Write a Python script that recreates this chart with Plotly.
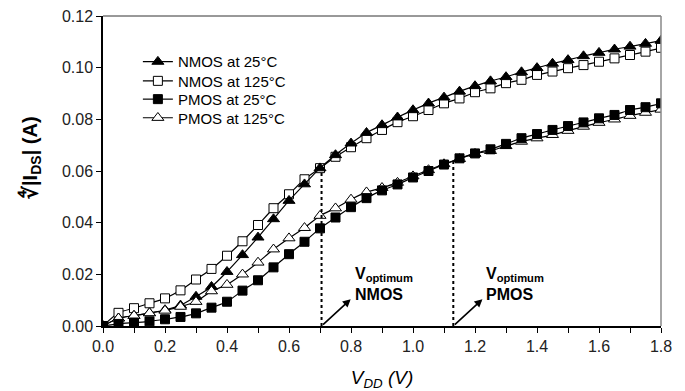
import numpy as np
import plotly.graph_objects as go

vdd = [round(0.05 * i, 2) for i in range(37)]

nmos_25 = [0, 0.0030, 0.0040, 0.0050, 0.0062, 0.0080, 0.0114, 0.0152, 0.0210, 0.0275,
           0.0343, 0.0414, 0.0485, 0.0549, 0.0611, 0.0662, 0.0707, 0.0748, 0.0778, 0.0808,
           0.0836, 0.0862, 0.0885, 0.0908, 0.0929, 0.0948, 0.0964, 0.0983, 0.0999, 0.1016,
           0.1030, 0.1045, 0.1058, 0.1071, 0.1082, 0.1093, 0.1105]
nmos_125 = [0, 0.0051, 0.0069, 0.0088, 0.0107, 0.0138, 0.0180, 0.0221, 0.0272, 0.0328,
            0.0391, 0.0456, 0.0510, 0.0568, 0.0611, 0.0655, 0.0692, 0.0727, 0.0759, 0.0789,
            0.0812, 0.0836, 0.0862, 0.0881, 0.0905, 0.0920, 0.0940, 0.0953, 0.0972, 0.0985,
            0.0998, 0.1010, 0.1023, 0.1036, 0.1049, 0.1062, 0.1077]
pmos_25 = [0, 0.0008, 0.0013, 0.0018, 0.0026, 0.0035, 0.0049, 0.0071, 0.0094, 0.0137,
           0.0177, 0.0227, 0.0278, 0.0326, 0.0378, 0.0420, 0.0460, 0.0495, 0.0525, 0.0548,
           0.0575, 0.0600, 0.0625, 0.0649, 0.0668, 0.0684, 0.0705, 0.0727, 0.0743, 0.0759,
           0.0774, 0.0788, 0.0804, 0.0817, 0.0836, 0.0847, 0.0862]
pmos_125 = [0, 0.0030, 0.0040, 0.0050, 0.0060, 0.0075, 0.0094, 0.0135, 0.0160, 0.0200,
            0.0246, 0.0297, 0.0340, 0.0380, 0.0427, 0.0456, 0.0490, 0.0518, 0.0535, 0.0555,
            0.0580, 0.0604, 0.0627, 0.0647, 0.0667, 0.0678, 0.0697, 0.0714, 0.0727, 0.0740,
            0.0756, 0.0772, 0.0787, 0.0800, 0.0814, 0.0826, 0.0838]

series_names = ["NMOS at 25°C", "NMOS at 125°C", "PMOS at 25°C", "PMOS at 125°C"]

v_opt_nmos = 0.705
v_opt_pmos = 1.13

x_ticks = [0.0, 0.2, 0.4, 0.6, 0.8, 1.0, 1.2, 1.4, 1.6, 1.8]
y_ticks = [0.00, 0.02, 0.04, 0.06, 0.08, 0.10, 0.12]

FONT = "Liberation Sans, Arial, sans-serif"

fig = go.Figure()

def add(name, y, symbol, fill, legend):
    fig.add_trace(go.Scatter(
        x=vdd, y=y, name=name, mode="lines+markers",
        line=dict(color="black", width=1.2, shape="spline", smoothing=0.6),
        marker=dict(symbol=symbol, size=9 if "square" in symbol else 10.5,
                    color=fill, line=dict(color="black", width=1)),
        legend=legend,
    ))

add(series_names[1], nmos_125, "square", "white", "legend2")
add(series_names[0], nmos_25, "triangle-up", "black", "legend")
add(series_names[3], pmos_125, "triangle-up", "white", "legend4")
add(series_names[2], pmos_25, "square", "black", "legend3")

# dotted V_optimum lines
top_n = float(np.interp(v_opt_nmos, vdd, nmos_25))
top_p = float(np.interp(v_opt_pmos, vdd, pmos_25))
for xv, top in [(v_opt_nmos, top_n), (v_opt_pmos, top_p)]:
    fig.add_shape(type="line", x0=xv, x1=xv, y0=0, y1=top, xref="x", yref="y",
                  line=dict(color="black", width=2, dash="dot"))

# arrows and labels
for xv, lab in [(v_opt_nmos, "NMOS"), (v_opt_pmos, "PMOS")]:
    fig.add_annotation(x=xv + 0.094, y=0.0104, ax=xv, ay=0.0, xref="x", yref="y",
                       axref="x", ayref="y", text="", showarrow=True,
                       arrowhead=2, arrowsize=1, arrowwidth=1.6, arrowcolor="black")
    fig.add_annotation(x=xv + 0.1, y=0.0080, xref="x", yref="y", xanchor="left",
                       yanchor="bottom", align="left", showarrow=False,
                       text="<b>V<sub>optimum</sub><br>%s</b>" % lab,
                       font=dict(family=FONT, size=16, color="black"))

# y-axis title as rotated annotation
fig.add_annotation(x=-72 / 558, y=0.542, xref="paper", yref="paper", textangle=-90,
                   showarrow=False, xanchor="center", yanchor="middle",
                   text="<b>∜|I<sub>DS</sub>| (A)</b>",
                   font=dict(family=FONT, size=20, color="black"))

# top and right frame
fig.add_shape(type="line", xref="paper", yref="paper", x0=0, x1=1, y0=1, y1=1,
              line=dict(color="#333333", width=1))
fig.add_shape(type="line", xref="paper", yref="paper", x0=1, x1=1, y0=0, y1=1,
              line=dict(color="#888888", width=1.5))

leg_common = dict(x=0.0625, xanchor="left", yanchor="middle", bgcolor="rgba(0,0,0,0)",
                  font=dict(size=15, family=FONT, color="black"), itemwidth=30,
                  borderwidth=0)
row_y = [0.852, 0.790, 0.731, 0.671]

fig.update_layout(
    width=685, height=391,
    margin=dict(l=103, r=24, t=16, b=65, autoexpand=False),
    paper_bgcolor="white", plot_bgcolor="white",
    font=dict(family=FONT, color="black"),
    showlegend=True,
    legend=dict(y=row_y[0], **leg_common),
    legend2=dict(y=row_y[1], **leg_common),
    legend3=dict(y=row_y[2], **leg_common),
    legend4=dict(y=row_y[3], **leg_common),
    xaxis=dict(range=[0, 1.8], tickvals=x_ticks, ticktext=["%.1f" % v for v in x_ticks],
               ticks="outside", ticklen=5, tickcolor="black", showgrid=False,
               zeroline=False, showline=True, linecolor="black", linewidth=1.5,
               tickfont=dict(size=16, color="#222222"), automargin=False,
               minor=dict(dtick=0.1, tick0=0, ticks="outside", ticklen=5, tickcolor="black"),
               title=dict(text="<i>V<sub>DD</sub> (V)</i>", font=dict(size=19), standoff=19)),
    yaxis=dict(range=[0, 0.12], tickvals=y_ticks, ticktext=["%.2f" % v for v in y_ticks],
               ticks="outside", ticklen=5, tickcolor="black", showgrid=False,
               zeroline=False, showline=True, linecolor="black", linewidth=1.5,
               tickfont=dict(size=16, color="#222222"), automargin=False),
)

fig.write_html("out.html", config={"displayModeBar": False},
               post_script="document.body.style.margin='0';document.body.style.overflow='hidden';")
